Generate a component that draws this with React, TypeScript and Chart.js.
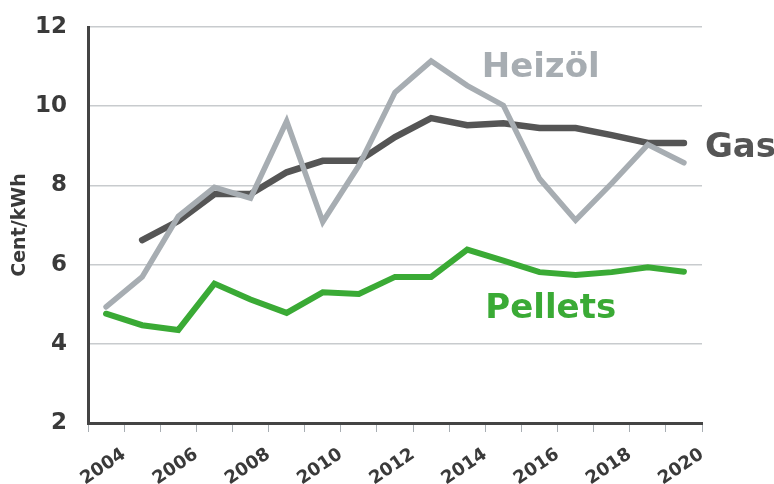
import React, { useEffect, useRef } from "react";
import { Chart, registerables } from "chart.js";

Chart.register(...registerables);

const years = [2004, 2005, 2006, 2007, 2008, 2009, 2010, 2011, 2012, 2013, 2014, 2015, 2016, 2017, 2018, 2019, 2020];
const heizoel = [4.93, 5.69, 7.22, 7.95, 7.68, 9.62, 7.08, 8.5, 10.35, 11.14, 10.52, 10.02, 8.17, 7.12, 8.05, 9.03, 8.57];
const gas = [null, 6.62, 7.1, 7.78, 7.78, 8.33, 8.62, 8.62, 9.22, 9.7, 9.52, 9.57, 9.45, 9.45, 9.27, 9.07, 9.07];
const pellets = [4.76, 4.47, 4.35, 5.52, 5.12, 4.78, 5.3, 5.26, 5.69, 5.69, 6.38, 6.1, 5.81, 5.74, 5.81, 5.93, 5.82];
const yTicks = [2, 4, 6, 8, 10, 12];

const seriesNames = ["Heizöl", "Gas", "Pellets"];
const seriesColors = ["#a7adb2", "#555555", "#3aaa35"];
const seriesWidths = [5.5, 6.5, 6];
// label anchors in data coordinates (year, value at text baseline)
const labelYears = [2013.9, 2020.08, 2014.0];
const labelValues = [10.74, 8.72, 4.65];

const FONT = "'DejaVu Sans', sans-serif";

const toPoints = (vals: (number | null)[]) =>
  years.map((yr, i) => ({ x: yr - 0.5, y: vals[i] }));

const seriesLabels = {
  id: "seriesLabels",
  afterDatasetsDraw(chart: any) {
    const { ctx, scales } = chart;
    ctx.save();
    ctx.font = `bold 34px ${FONT}`;
    ctx.textAlign = "left";
    ctx.textBaseline = "alphabetic";
    seriesNames.forEach((name, i) => {
      ctx.fillStyle = seriesColors[i];
      ctx.fillText(name, scales.x.getPixelForValue(labelYears[i]), scales.y.getPixelForValue(labelValues[i]));
    });
    ctx.restore();
  },
};

export default function App() {
  const ref = useRef<HTMLCanvasElement | null>(null);
  useEffect(() => {
    document.body.style.margin = "0";
    const datasets = [heizoel, gas, pellets].map((vals, i) => ({
      label: seriesNames[i],
      data: toPoints(vals),
      borderColor: seriesColors[i],
      backgroundColor: seriesColors[i],
      borderWidth: seriesWidths[i],
      borderCapStyle: "round" as const,
      pointRadius: 0,
      tension: 0,
      spanGaps: false,
    }));
    const order = [0, 2, 1];
    const chart = new Chart(ref.current!, {
      type: "line",
      data: { datasets: order.map((k) => datasets[k]) },
      options: {
        animation: false,
        responsive: true,
        maintainAspectRatio: false,
        layout: { padding: { top: 27, right: 72, left: 0, bottom: 0 } },
        plugins: { legend: { display: false }, tooltip: { enabled: false } },
        scales: {
          x: {
            type: "linear",
            min: 2003,
            max: 2020,
            afterFit: (s: any) => {
              s.height = 61;
              s.paddingLeft = 0;
              s.paddingRight = 0;
            },
            ticks: {
              stepSize: 1,
              autoSkip: false,
              minRotation: 34,
              maxRotation: 34,
              padding: 12,
              color: "#3a3a3a",
              font: { family: FONT, weight: "bold", size: 18 },
              callback: (v: any) => (Number(v) % 2 === 0 ? String(v) : ""),
            },
            grid: {
              drawOnChartArea: false,
              drawTicks: true,
              tickLength: 9,
              color: "#a8aeb3",
              lineWidth: 1,
            },
            border: { display: true, color: "#444444", width: 3 },
          },
          y: {
            min: 2,
            max: 12,
            afterFit: (s: any) => {
              s.width = 88;
              s.paddingTop = 0;
              s.paddingBottom = 0;
            },
            afterBuildTicks: (s: any) => {
              s.ticks = yTicks.map((v) => ({ value: v }));
            },
            ticks: {
              padding: 21,
              color: "#3a3a3a",
              font: { family: FONT, weight: "bold", size: 23 },
            },
            grid: {
              drawTicks: false,
              color: "#c8cbce",
              lineWidth: 1.5,
            },
            border: { display: true, color: "#444444", width: 3 },
            title: {
              display: true,
              text: "Cent/kWh",
              color: "#3a3a3a",
              font: { family: FONT, weight: "bold", size: 19 },
              padding: { top: 9, bottom: 0 },
            },
          },
        },
      },
      plugins: [seriesLabels],
    });
    return () => chart.destroy();
  }, []);
  return (
    <div style={{ width: 774, height: 484, position: "relative" }}>
      <canvas ref={ref} />
    </div>
  );
}
